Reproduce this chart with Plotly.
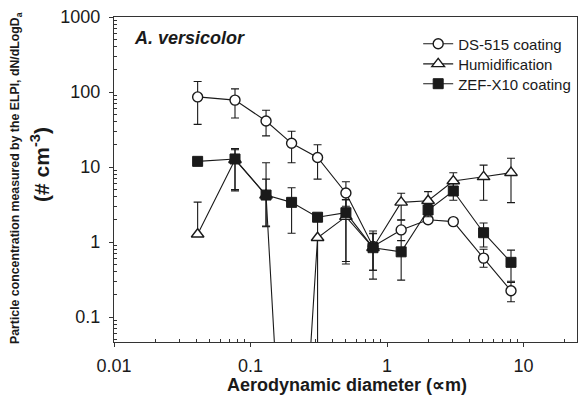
import plotly.graph_objects as go

# Aerodynamic diameter (µm) of ELPI stages
diameter = [0.041, 0.077, 0.13, 0.20, 0.31, 0.50, 0.79, 1.27, 2.0, 3.06, 5.1, 8.1]

# DS-515 coating
ds515 = [86, 78, 41, 20.7, 13.4, 4.5, 0.87, 1.45, 1.98, 1.87, 0.61, 0.224]
ds515_plus = [52, 32, 16, 9.3, 6.4, 1.85, 0.53, 0.5, 0.2, 0.15, 0.19, 0.066]
ds515_minus = [49, 33, 15, 9.3, 6.5, 1.5, 0.45, 0.4, 0.2, 0.15, 0.15, 0.064]

# Humidification
humid = [1.27, 12.5, 4.2, 0.000004, 1.14, 2.18, 0.84, 3.38, 3.55, 6.5, 7.4, 8.4]
humid_plus = [2.13, 4.5, 7.2, 0, 0.9, 1.5, 0.47, 1.08, 1.15, 1.9, 3.2, 4.7]
humid_minus = [0, 7.5, 2.6, 0, 1.3, 1.67, 0.52, 1.4, 0.8, 1.5, 3.8, 5.05]

# ZEF-X10 coating
zef = [11.9, 12.8, 4.23, 3.38, 2.14, 2.46, 0.84, 0.74, 2.67, 4.79, 1.33, 0.536]
zef_plus = [0, 4.8, 2.67, 1.92, 0.2, 1.2, 0.45, 0.3, 0.5, 1.2, 0.46, 0.244]
zef_minus = [0, 8.0, 2.6, 2.07, 0.2, 1.91, 0.42, 0.43, 0.5, 1.19, 0.47, 0.236]

series_names = ["DS-515 coating", "Humidification", "ZEF-X10 coating"]
x_tick_vals = [0.01, 0.1, 1, 10]
x_tick_text = ["0.01", "0.1", "1", "10"]
y_tick_vals = [0.1, 1, 10, 100, 1000]
y_tick_text = ["0.1", "1", "10", "100", "1000"]

# minor ticks at 2..9 within each decade
x_minor = [m * d for d in [0.01, 0.1, 1, 10] for m in range(2, 10)]
y_minor = [m * d for d in [0.01, 0.1, 1, 10, 100] for m in range(2, 10)]

FONT = "Arial, 'Liberation Sans', sans-serif"
INK = "#1a1a1a"

def err(plus, minus):
    return dict(type="data", symmetric=False, array=plus, arrayminus=minus,
                color=INK, thickness=1.1, width=4)

fig = go.Figure()
fig.add_trace(go.Scatter(
    x=diameter, y=ds515, name=series_names[0], mode="lines+markers", legend="legend",
    line=dict(color=INK, width=1.1),
    marker=dict(symbol="circle", size=10, color="white", line=dict(color=INK, width=1.4)),
    error_y=err(ds515_plus, ds515_minus)))
fig.add_trace(go.Scatter(
    x=diameter, y=humid, name=series_names[1], mode="lines+markers", legend="legend2",
    line=dict(color=INK, width=1.1),
    marker=dict(symbol="triangle-up", size=11, color="white", line=dict(color=INK, width=1.4)),
    error_y=err(humid_plus, humid_minus)))
fig.add_trace(go.Scatter(
    x=diameter, y=zef, name=series_names[2], mode="lines+markers", legend="legend3",
    line=dict(color=INK, width=1.1),
    marker=dict(symbol="square", size=10, color=INK, line=dict(color=INK, width=1)),
    error_y=err(zef_plus, zef_minus)))

axis_common = dict(
    type="log", showgrid=False, zeroline=False,
    showline=True, linecolor="#333", linewidth=1.4, mirror=True,
    ticks="outside", ticklen=4, tickcolor="#333", tickwidth=1.2,
    tickfont=dict(family=FONT, size=18, color=INK),
)

fig.update_xaxes(range=[-2, 1.392], tickmode="array", tickvals=x_tick_vals, ticktext=x_tick_text,
                 ticklabelstandoff=3,
                 minor=dict(tickmode="array", tickvals=x_minor, ticks="inside", ticklen=3,
                            tickcolor="#333", tickwidth=1, showgrid=False),
                 **axis_common)
fig.update_yaxes(range=[-1.333, 3], tickmode="array", tickvals=y_tick_vals, ticktext=y_tick_text,
                 ticklabelstandoff=5,
                 minor=dict(tickmode="array", tickvals=y_minor, ticks="inside", ticklen=3,
                            tickcolor="#333", tickwidth=1, showgrid=False),
                 **axis_common)

fig.add_annotation(text="<b><i>A. versicolor</i></b>", xref="paper", yref="paper",
                   x=0.038, y=0.935, xanchor="left", yanchor="middle", showarrow=False,
                   font=dict(family=FONT, size=18, color=INK))
fig.add_annotation(text="<b>Aerodynamic diameter (∝m)</b>", xref="paper", yref="paper",
                   x=0.504, y=-0.133, xanchor="center", yanchor="middle", showarrow=False,
                   font=dict(family=FONT, size=18, color=INK))
fig.add_annotation(text="<b>Particle concentration measured by the ELPI, dN/dLogD<sub>a</sub></b>",
                   xref="paper", yref="paper", x=-0.2117, y=0.5046, textangle=-90,
                   xanchor="center", yanchor="middle", showarrow=False,
                   font=dict(family=FONT, size=12.3, color=INK))
fig.add_annotation(text="<b>(# cm<sup>-3</sup>)</b>",
                   xref="paper", yref="paper", x=-0.1598, y=0.545, textangle=-90,
                   xanchor="center", yanchor="middle", showarrow=False,
                   font=dict(family=FONT, size=21, color=INK))

leg_common = dict(x=0.657, xanchor="left", yanchor="middle",
                  bgcolor="rgba(0,0,0,0)", borderwidth=0,
                  font=dict(family=FONT, size=15, color=INK), itemwidth=30)

fig.update_layout(
    width=583, height=397,
    margin=dict(l=114, r=6, t=17, b=55),
    paper_bgcolor="white", plot_bgcolor="white",
    showlegend=True,
    legend=dict(y=0.917, **leg_common),
    legend2=dict(y=0.855, **leg_common),
    legend3=dict(y=0.794, **leg_common),
    font=dict(family=FONT, color=INK),
)

fig.write_html("out.html")
